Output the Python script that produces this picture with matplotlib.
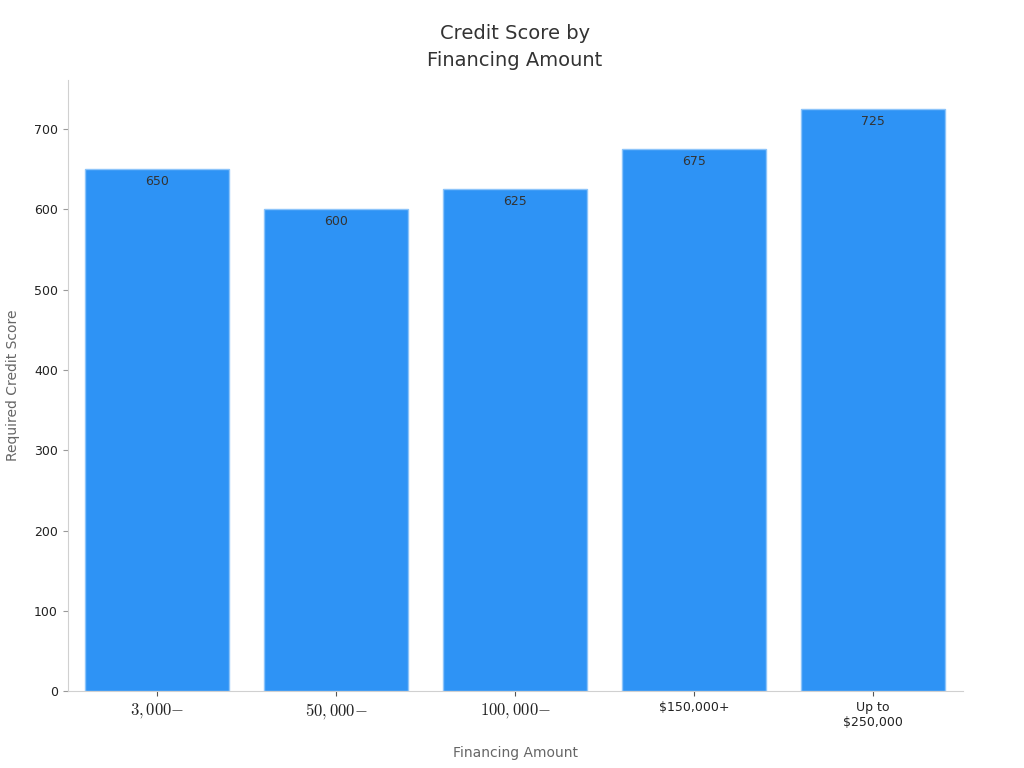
import matplotlib
matplotlib.use("Agg")
import matplotlib.pyplot as plt

categories = ["$3,000{-}$", "$50,000{-}$", "$100,000{-}$", "\\$150,000+", "Up to\n\\$250,000"]
scores = [650, 600, 625, 675, 725]

plt.rcParams['mathtext.fontset'] = 'cm'

fig = plt.figure(figsize=(10.24, 7.68), dpi=100)
ax = fig.add_axes([0.066, 0.1, 0.874, 0.796])

x = range(len(categories))
bars = ax.bar(x, scores, width=0.8, color='#2E93F5', edgecolor='#8CC4FA', linewidth=1)

for b, v in zip(bars, scores):
    ax.annotate(str(v), (b.get_x() + b.get_width() / 2, v), xytext=(0, -4),
                textcoords='offset points', ha='center', va='top',
                fontsize=9, color='#333333')

ax.set_xlim(-0.5, 4.5)
ax.set_ylim(0, 725 * 1.05)
ax.set_xticks(list(x))
ax.set_xticklabels(categories, fontsize=9, color='#222222')
for lbl in ax.get_xticklabels()[:3]:
    lbl.set_fontsize(12)
ax.tick_params(axis='y', labelsize=9, labelcolor='#222222', color='#999999')
ax.tick_params(axis='x', color='#555555')

for s in ['top', 'right']:
    ax.spines[s].set_visible(False)
for s in ['left', 'bottom']:
    ax.spines[s].set_color('#d0d0d0')

ax.set_title('Credit Score by\nFinancing Amount', fontsize=14, color='#333333',
             pad=10, linespacing=1.5)
ax.set_xlabel('Financing Amount', fontsize=10, color='#666666', labelpad=12)
ax.set_ylabel('Required Credit Score', fontsize=10, color='#666666', labelpad=10)

fig.savefig('out.png', dpi=100)
